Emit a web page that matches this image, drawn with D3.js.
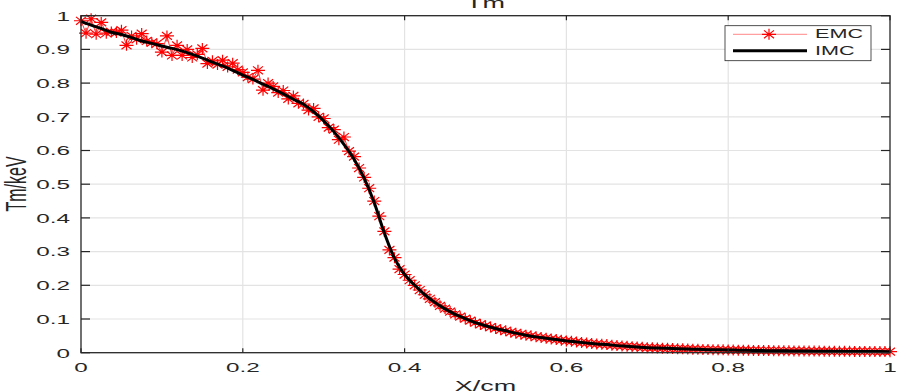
<!DOCTYPE html>
<html lang="en">
<head>
<meta charset="UTF-8">
<title>Tm</title>
<script src="https://cdn.jsdelivr.net/npm/d3@7"></script>
<style>
  body { margin: 0; background: #fff; }
  svg { display: block; }
  text { font-family: "Liberation Sans", Arial, Helvetica, sans-serif; fill: #262626; }
</style>
</head>
<body>
<svg id="chart" width="897" height="392"></svg>
<script>
  // ---- data ----
  const xTicks = [0, 0.2, 0.4, 0.6, 0.8, 1];
  const yTicks = [0, 0.1, 0.2, 0.3, 0.4, 0.5, 0.6, 0.7, 0.8, 0.9, 1];
  const seriesNames = ['EMC', 'IMC'];

  // IMC: smooth reference solution, one value every 0.0125 cm
  const imcStep = 0.0125;
  const imcT = [
    0.983, 0.972, 0.962, 0.951, 0.944, 0.935, 0.925, 0.918, 0.910, 0.903,
    0.895, 0.885, 0.874, 0.862, 0.851, 0.838, 0.824, 0.811, 0.797, 0.783,
    0.768, 0.752, 0.737, 0.715, 0.688, 0.656, 0.618, 0.574, 0.518, 0.445,
    0.355, 0.280, 0.232, 0.200, 0.172, 0.149, 0.130, 0.114, 0.101, 0.089,
    0.080, 0.072, 0.065, 0.058, 0.052, 0.047, 0.043, 0.039, 0.035, 0.032,
    0.029, 0.026, 0.024, 0.021, 0.019, 0.017, 0.015, 0.014, 0.013, 0.012,
    0.011, 0.010, 0.009, 0.0085, 0.008, 0.0075, 0.007, 0.0065, 0.006, 0.0057,
    0.0054, 0.0051, 0.0048, 0.0045, 0.0042, 0.004, 0.0038, 0.0036, 0.0034, 0.0032,
    0.003
  ];

  // EMC: noisy Monte Carlo values, one every 0.00625 cm
  const emcStep = 0.00625;
  const emcT = [
    0.985, 0.948, 0.991, 0.945, 0.980, 0.948, 0.952, 0.950, 0.957, 0.912,
    0.940, 0.930, 0.947, 0.925, 0.920, 0.917, 0.892, 0.940, 0.882, 0.912,
    0.882, 0.900, 0.876, 0.885, 0.903, 0.858, 0.866, 0.855, 0.868, 0.848,
    0.859, 0.840, 0.832, 0.818, 0.812, 0.838, 0.779, 0.800, 0.790, 0.772,
    0.778, 0.753, 0.762, 0.740, 0.738, 0.720, 0.725, 0.700, 0.695, 0.668,
    0.662, 0.632, 0.640, 0.598, 0.582, 0.548, 0.520, 0.488, 0.450, 0.405,
    0.360, 0.305, 0.282, 0.248, 0.232, 0.215, 0.200, 0.186, 0.172, 0.160,
    0.150, 0.139, 0.131, 0.122, 0.114, 0.107, 0.101, 0.095, 0.089, 0.084,
    0.080,
    0.076, 0.072, 0.068, 0.065, 0.061, 0.058, 0.055, 0.052, 0.050, 0.047,
    0.045, 0.043, 0.041, 0.039, 0.037, 0.035, 0.034, 0.032, 0.030, 0.029,
    0.027, 0.026, 0.025, 0.024, 0.022, 0.021, 0.020, 0.019, 0.018, 0.017,
    0.016, 0.015, 0.0145, 0.014, 0.0135, 0.013, 0.0125, 0.012, 0.0115, 0.011,
    0.0105, 0.010, 0.0097, 0.0093, 0.009, 0.0087, 0.0084, 0.008,
    0.0078, 0.0075, 0.0073, 0.007, 0.0068, 0.0066, 0.0064, 0.0062, 0.006, 0.0058,
    0.0057, 0.0055, 0.0054, 0.0052, 0.0051, 0.005, 0.0048, 0.0047, 0.0046, 0.0045,
    0.0043, 0.0042, 0.0041, 0.004, 0.0039, 0.0038, 0.0037, 0.0036, 0.0035, 0.0034,
    0.0032, 0.003
  ];

  // ---- layout ----
  const stretch = 1.8;   // the original figure is squeezed into a wide window
  const axisCol = '#262626', gridCol = '#e3e3e3';

  const svg = d3.select('#chart');
  const x = d3.scaleLinear().domain([0, 1]).range([81, 890]);
  const y = d3.scaleLinear().domain([0, 1]).range([352.7, 15.7]);

  function label(txt, px, py, size, anchor, opts) {
    opts = opts || {};
    const t = svg.append('text')
      .attr('transform', `translate(${px},${py}) scale(${stretch},1)` + (opts.rotate ? ` rotate(${opts.rotate})` : ''))
      .attr('text-anchor', anchor)
      .attr('dominant-baseline', opts.baseline || 'auto')
      .style('font-size', size + 'px')
      .text(txt);
    if (opts.bold) t.style('font-weight', 'bold');
    return t;
  }

  // grid
  const grid = svg.append('g');
  grid.selectAll('.gx').data(xTicks.slice(1, -1)).join('line')
    .attr('x1', d => x(d)).attr('x2', d => x(d))
    .attr('y1', y(0)).attr('y2', y(1))
    .attr('stroke', gridCol).attr('stroke-width', 1.2);
  grid.selectAll('.gy').data(yTicks.slice(1, -1)).join('line')
    .attr('class', 'gy')
    .attr('x1', x(0)).attr('x2', x(1))
    .attr('y1', d => y(d)).attr('y2', d => y(d))
    .attr('stroke', gridCol).attr('stroke-width', 1.2);

  // EMC: thin red line with asterisk markers
  const emc = emcT.map((v, i) => [i * emcStep, v]);
  const imc = imcT.map((v, i) => [i * imcStep, v]);

  svg.append('path').datum(emc)
    .attr('d', d3.line().x(d => x(d[0])).y(d => y(d[1])))
    .attr('fill', 'none').attr('stroke', '#ff0000').attr('stroke-width', 0.8);

  const hx = 7, vy = 5.5, dx = 5, dy = 3.9;
  const star = `M${-hx},0H${hx}M0,${-vy}V${vy}M${-dx},${-dy}L${dx},${dy}M${-dx},${dy}L${dx},${-dy}`;
  svg.append('g').selectAll('path').data(emc).join('path')
    .attr('transform', d => `translate(${x(d[0])},${y(d[1])})`)
    .attr('d', star)
    .attr('fill', 'none').attr('stroke', '#ff0000').attr('stroke-width', 1.2);

  // IMC: thick black line on top
  svg.append('path').datum(imc)
    .attr('d', d3.line().curve(d3.curveMonotoneX).x(d => x(d[0])).y(d => y(d[1])))
    .attr('fill', 'none').attr('stroke', '#000').attr('stroke-width', 3)
    .attr('stroke-linejoin', 'round');

  // axes box + inward ticks (bottom/left and mirrored top/right)
  const ax = svg.append('g');
  ax.append('rect')
    .attr('x', x(0)).attr('y', y(1))
    .attr('width', x(1) - x(0)).attr('height', y(0) - y(1))
    .attr('fill', 'none').attr('stroke', axisCol).attr('stroke-width', 1.3);
  xTicks.forEach(t => {
    ax.append('line').attr('x1', x(t)).attr('x2', x(t)).attr('y1', y(0)).attr('y2', y(0) - 4.5)
      .attr('stroke', axisCol).attr('stroke-width', 1.2);
    ax.append('line').attr('x1', x(t)).attr('x2', x(t)).attr('y1', y(1)).attr('y2', y(1) + 4.5)
      .attr('stroke', axisCol).attr('stroke-width', 1.2);
    label(d3.format('~g')(t), x(t), 372, 13.5, 'middle');
  });
  yTicks.forEach(t => {
    ax.append('line').attr('x1', x(0)).attr('x2', x(0) + 9).attr('y1', y(t)).attr('y2', y(t))
      .attr('stroke', axisCol).attr('stroke-width', 1.2);
    ax.append('line').attr('x1', x(1)).attr('x2', x(1) - 9).attr('y1', y(t)).attr('y2', y(t))
      .attr('stroke', axisCol).attr('stroke-width', 1.2);
    label(d3.format('~g')(t), 70, y(t), 13.5, 'end', { baseline: 'central' });
  });

  // titles (the reference crops the title and the x label at the edges)
  label('Tm', 485.5, 8, 15, 'middle');
  label('X/cm', 485.5, 391, 15, 'middle');
  label('Tm/keV', 16, 184, 16, 'middle', { rotate: -90, baseline: 'central' });

  // legend
  const lg = svg.append('g');
  lg.append('rect').attr('x', 725).attr('y', 25.7).attr('width', 146).attr('height', 35)
    .attr('fill', '#fff').attr('stroke', axisCol).attr('stroke-width', 0.8);
  const rows = [
    { name: seriesNames[0], y: 34.3, color: '#ff0000', w: 0.8, mark: true },
    { name: seriesNames[1], y: 50.7, color: '#000', w: 3, mark: false }
  ];
  rows.forEach(r => {
    lg.append('line').attr('x1', 733).attr('x2', 807).attr('y1', r.y).attr('y2', r.y)
      .attr('stroke', r.color).attr('stroke-width', r.w)
      .attr('stroke-opacity', r.mark ? 0.6 : 1);
    if (r.mark) {
      lg.append('path').attr('transform', `translate(769,${r.y})`).attr('d', star)
        .attr('fill', 'none').attr('stroke', '#ff0000').attr('stroke-width', 1.2);
    }
    label(r.name, 815, r.y, 12, 'start', { baseline: 'central' });
  });
</script>
</body>
</html>
